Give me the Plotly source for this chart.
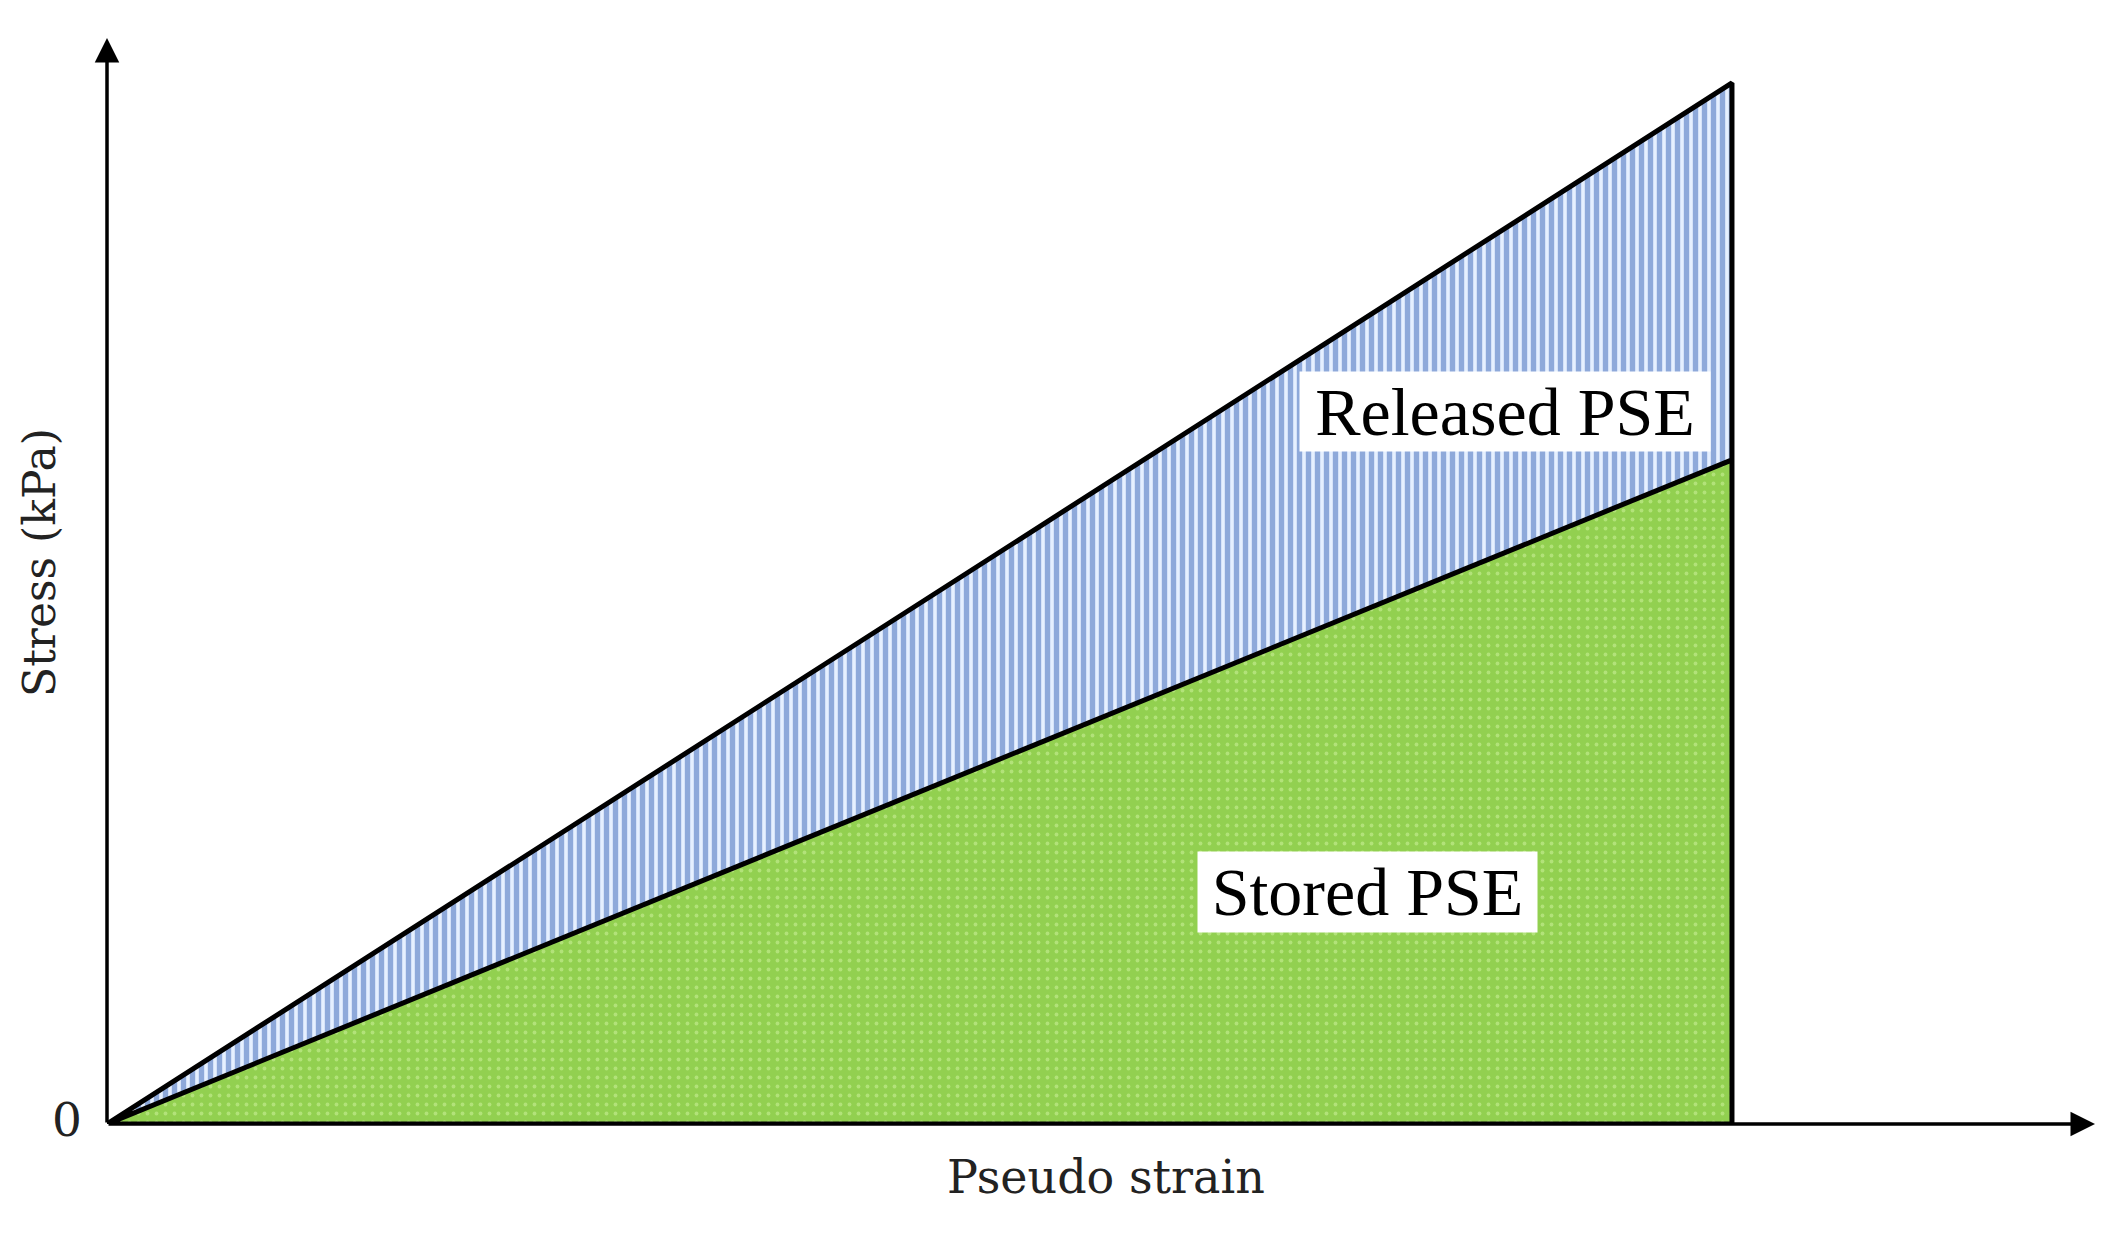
import plotly.graph_objects as go

# pseudo strain / stress (normalised, no units on the original)
strain = [0.0, 1.0, 1.0]
stress_total = [0.0, 1.0, 0.638]
stress_stored = [0.0, 0.638, 0.0]

# outline of the whole loading path
outline_x = [0.0, 1.0, 1.0, 0.0, 1.0]
outline_y = [0.0, 1.0, 0.0, 0.0, 0.638]

x_max = 1.2234
y_max = 1.0432

serif = "Liberation Serif"
book = "DejaVu Serif"

fig = go.Figure()

fig.add_trace(go.Scatter(
    x=strain, y=stress_stored,
    fill='toself',
    mode='none',
    fillcolor='#92d050',
    fillpattern=dict(shape='.', fgcolor='#d2f3a2', bgcolor='#92d050',
                     size=9, solidity=0.14),
    hoverinfo='skip',
    name='Stored PSE',
))

fig.add_trace(go.Scatter(
    x=strain, y=stress_total,
    fill='toself',
    mode='none',
    fillcolor='#e6f0ff',
    fillpattern=dict(shape='|', fgcolor='#3562b5', bgcolor='#e6f0ff',
                     size=9, solidity=0.6),
    hoverinfo='skip',
    name='Released PSE',
))

fig.add_trace(go.Scatter(
    x=outline_x, y=outline_y,
    mode='lines',
    line=dict(color='black', width=5),
    hoverinfo='skip',
    cliponaxis=False,
))

# axes drawn as arrows
fig.add_annotation(x=x_max, y=0, ax=0, ay=0, xref='x', yref='y',
                   axref='x', ayref='y', text='', showarrow=True,
                   arrowhead=2, arrowsize=1.4, arrowwidth=3.5,
                   arrowcolor='black', standoff=0)
fig.add_annotation(x=0, y=y_max, ax=0, ay=0, xref='x', yref='y',
                   axref='x', ayref='y', text='', showarrow=True,
                   arrowhead=2, arrowsize=1.4, arrowwidth=3.5,
                   arrowcolor='black', standoff=0)

# region labels
fig.add_annotation(x=0.8603, y=0.684, text='Released PSE', showarrow=False,
                   font=dict(family=serif, size=68, color='black'),
                   bgcolor='white', width=410, height=79, borderpad=0)
fig.add_annotation(x=0.7754, y=0.2229, text='Stored PSE', showarrow=False,
                   font=dict(family=serif, size=68, color='black'),
                   bgcolor='white', width=339, height=80, borderpad=0)

# axis labels
fig.add_annotation(x=-0.0201, y=0.0037, xref='paper', yref='paper',
                   xanchor='center', yanchor='middle',
                   text='0', showarrow=False,
                   font=dict(family=book, size=47, color='#222'))
fig.add_annotation(x=0.5025, y=-0.0488, xref='paper', yref='paper',
                   xanchor='center', yanchor='middle',
                   text='Pseudo strain', showarrow=False,
                   font=dict(family=book, size=46, color='#222'))
fig.add_annotation(x=-0.0337, y=0.5166, xref='paper', yref='paper',
                   xanchor='center', yanchor='middle',
                   text='Stress (kPa)', showarrow=False, textangle=-90,
                   font=dict(family=book, size=44, color='#222'))

fig.update_xaxes(range=[0, x_max], showgrid=False, zeroline=False,
                 showline=False, showticklabels=False, ticks='')
fig.update_yaxes(range=[0, y_max], showgrid=False, zeroline=False,
                 showline=False, showticklabels=False, ticks='')

fig.update_layout(
    width=2097, height=1224,
    margin=dict(l=99, r=10, t=30, b=108),
    plot_bgcolor='white', paper_bgcolor='white',
    showlegend=False,
)

fig.write_html("out.html")
